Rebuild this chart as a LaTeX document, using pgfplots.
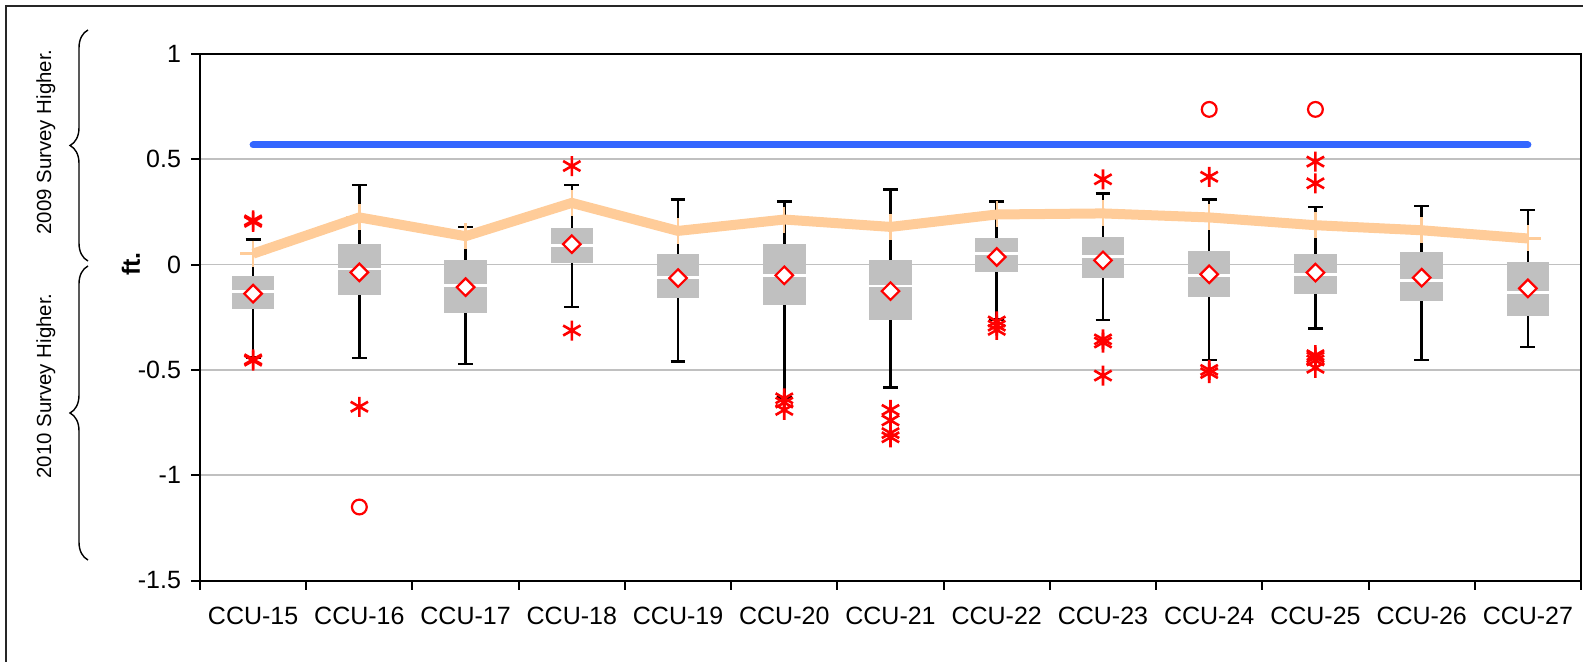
\documentclass[border=0pt]{standalone}
\usepackage{fontspec}
\setmainfont{Liberation Sans}
\usepackage{pgfplots}
\usepackage{pgfplotstable}
\pgfplotsset{compat=1.18}
\usepgfplotslibrary{statistics}
\usetikzlibrary{decorations.pathreplacing}

\definecolor{boxgray}{RGB}{192,192,192}
\definecolor{gridgray}{RGB}{192,192,192}
\definecolor{meanline}{RGB}{255,204,153}
\definecolor{refblue}{RGB}{51,102,255}

% position, mean, line value
\pgfplotstableread{
x     mean    avg
0.5  -0.138   0.052
1.5  -0.037   0.224
2.5  -0.107   0.135
3.5   0.097   0.293
4.5  -0.064   0.160
5.5  -0.051   0.214
6.5  -0.126   0.179
7.5   0.036   0.238
8.5   0.020   0.243
9.5  -0.046   0.224
10.5 -0.038   0.187
11.5 -0.062   0.163
12.5 -0.113   0.124
}\means

% draw position, lower whisker, q1, median, q3, upper whisker
\newcommand{\bx}[6]{%
  \addplot[boxplot prepared={draw position=#1, lower whisker=#2,
    lower quartile=#3, median=#4, upper quartile=#5, upper whisker=#6,
    box extend=0.4, whisker extend=0.14}] coordinates {};}

\pgfplotsset{
  boxplot/every box/.style={fill=boxgray, draw=none},
  boxplot/every whisker/.style={draw=black, line width=1.25pt},
  boxplot/every median/.style={draw=white, line width=1.4pt},
}

\begin{document}
\begin{tikzpicture}
\path[use as bounding box] (0pt,0pt) rectangle (791.5pt,-331pt);

\begin{axis}[
    at={(100pt,-290.25pt)}, anchor=south west,
    scale only axis, width=690.5pt, height=263.25pt,
    xmin=0, xmax=13, ymin=-1.5, ymax=1,
    boxplot/draw direction=y,
    xtick={0,1,...,13}, x tick label as interval,
    xticklabels={CCU-15,CCU-16,CCU-17,CCU-18,CCU-19,CCU-20,CCU-21,
                 CCU-22,CCU-23,CCU-24,CCU-25,CCU-26,CCU-27},
    ytick={-1.5,-1,-0.5,0,0.5,1},
    yticklabels={-1.5,-1,-0.5,0,0.5,1},
    tick pos=left, tick align=outside,
    major tick length=4.5pt,
    every tick/.style={black, line width=1pt},
    axis line style={black, line width=1pt},
    ymajorgrids, major grid style={gridgray, line width=0.9pt},
    tick label style={font=\fontsize{12.5}{14}\selectfont},
    xticklabel style={yshift=-5pt},
    yticklabel style={xshift=-1.5pt},
    /pgf/number format/assume math mode=true,
]

\addplot[refblue, line width=3.5pt, line cap=round] coordinates {(0.5,0.568) (12.5,0.568)};

\bx{0.5}{-0.440}{-0.211}{-0.127}{-0.052}{0.119}
\bx{1.5}{-0.443}{-0.145}{-0.021}{0.097}{0.378}
\bx{2.5}{-0.471}{-0.230}{-0.100}{0.020}{0.179}
\bx{3.5}{-0.202}{0.008}{0.092}{0.176}{0.378}
\bx{4.5}{-0.460}{-0.159}{-0.062}{0.049}{0.310}
\bx{5.5}{-0.630}{-0.192}{-0.050}{0.097}{0.300}
\bx{6.5}{-0.583}{-0.264}{-0.102}{0.020}{0.357}
\bx{7.5}{-0.260}{-0.035}{0.052}{0.128}{0.300}
\bx{8.5}{-0.262}{-0.062}{0.040}{0.133}{0.338}
\bx{9.5}{-0.452}{-0.154}{-0.051}{0.065}{0.309}
\bx{10.5}{-0.303}{-0.141}{-0.046}{0.048}{0.274}
\bx{11.5}{-0.452}{-0.173}{-0.075}{0.059}{0.278}
\bx{12.5}{-0.392}{-0.245}{-0.133}{0.011}{0.259}

\addplot[meanline, line width=5pt, line join=round, mark=+, mark size=6.5pt,
  mark options={line width=1.2pt}] table[x=x, y=avg] {\means};

\addplot[only marks, mark=square*, mark size=3.1pt,
  mark options={rotate=45, fill=white, draw=red, line width=1.1pt}] table[x=x, y=mean] {\means};

\addplot[only marks, mark=asterisk, mark size=5pt, red, line width=1.3pt] coordinates {
  (0.5,0.203) (0.5,0.210) (0.5,-0.450) (0.5,-0.456)
  (1.5,-0.675)
  (3.5,0.468) (3.5,-0.313)
  (5.5,-0.635) (5.5,-0.655) (5.5,-0.690)
  (6.5,-0.690) (6.5,-0.740) (6.5,-0.800) (6.5,-0.820)
  (7.5,-0.270) (7.5,-0.290) (7.5,-0.310)
  (8.5,0.405) (8.5,-0.355) (8.5,-0.370) (8.5,-0.527)
  (9.5,0.417) (9.5,-0.500) (9.5,-0.515)
  (10.5,0.489) (10.5,0.386) (10.5,-0.430) (10.5,-0.440) (10.5,-0.455) (10.5,-0.490)
};

\addplot[only marks, mark=o, mark size=3.7pt, red, line width=1.1pt] coordinates {
  (1.5,-1.151) (9.5,0.737) (10.5,0.737)
};
\end{axis}

% outer chart frame (left and top edges visible)
\draw[black!85, line width=0.8pt] (3pt,-331pt) -- (3pt,-3pt) -- (791.5pt,-3pt);

\node[rotate=90, font=\fontsize{12.5}{14}\selectfont\bfseries] at (65.5pt,-132pt) {ft.};
\node[rotate=90, font=\fontsize{10.2}{12}\selectfont] at (22.9pt,-71pt) {2009 Survey Higher.};
\node[rotate=90, font=\fontsize{10.2}{12}\selectfont] at (22.9pt,-193pt) {2010 Survey Higher.};

\draw[line width=0.7pt, decorate, decoration={brace, amplitude=9pt}] (44pt,-130.5pt) -- (44pt,-15pt);
\draw[line width=0.7pt, decorate, decoration={brace, amplitude=9pt}] (44pt,-280pt) -- (44pt,-133pt);
\end{tikzpicture}
\end{document}
